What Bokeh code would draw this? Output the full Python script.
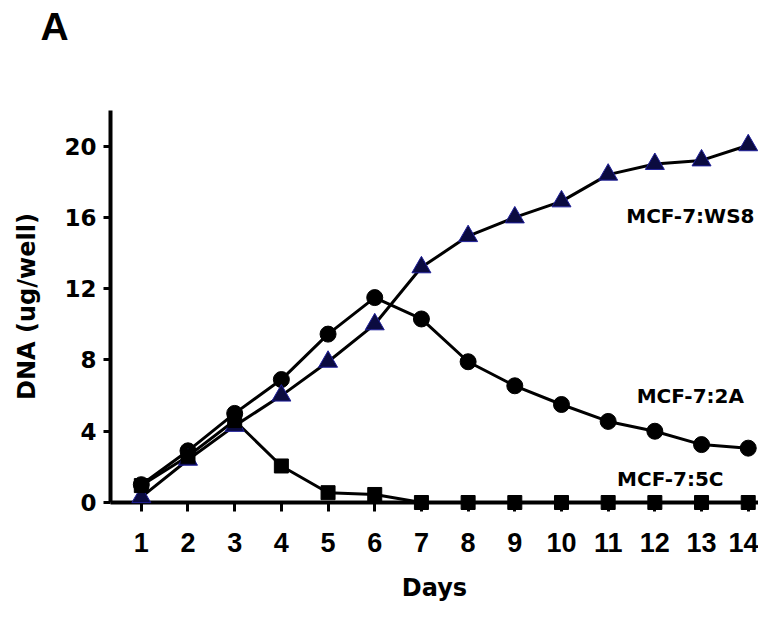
from bokeh.plotting import figure
from bokeh.models import Range1d, FixedTicker, Label, Title
from bokeh.embed import file_html
from bokeh.resources import INLINE

# ---- data ----
days = list(range(1, 15))
ws8 = [0.3, 2.4, 4.3, 6.0, 7.9, 10.0, 13.2, 14.95, 16.0, 16.9, 18.4, 19.0, 19.2, 20.05]
a2 = [1.0, 2.9, 5.0, 6.9, 9.45, 11.5, 10.3, 7.9, 6.55, 5.5, 4.55, 4.0, 3.25, 3.05]
c5 = [0.95, 2.6, 4.6, 2.05, 0.55, 0.45, 0.0, 0.0, 0.0, 0.0, 0.0, 0.0, 0.0, 0.0]
y_ticks = [0, 4, 8, 12, 16, 20]
series_names = ["MCF-7:WS8", "MCF-7:2A", "MCF-7:5C"]
name_x = [12.76, 12.76, 12.33]
name_y = [16.07, 5.98, 1.33]

p = figure(width=758, height=604, output_backend="svg", toolbar_location=None,
           x_range=Range1d(0.34, 14.22), y_range=Range1d(0, 22),
           min_border_left=110, min_border_right=0, min_border_top=110, min_border_bottom=102)
p.outline_line_color = None
p.grid.visible = False
p.background_fill_color = "white"
p.border_fill_color = "white"

# panel letter as the title, pushed up by a spacer panel next to the frame
p.title.text = "A"
p.title.text_font = "Liberation Sans"
p.title.text_font_style = "bold"
p.title.text_font_size = "39px"
p.title.text_color = "black"
p.title.align = "left"
p.title.vertical_align = "top"
p.title.offset = -70
p.title.standoff = 0
p.add_layout(Title(text=" ", text_font_size="10px", standoff=48), "above")

# lines
p.line(days, ws8, line_color="black", line_width=3)
p.line(days, a2, line_color="black", line_width=3)
p.line(days, c5, line_color="black", line_width=3)

# markers
p.scatter(days, a2, marker="circle", size=16, fill_color="black", line_color="black", level="overlay")
p.scatter(days, ws8, marker="triangle", size=19, fill_color="#0b0b40", line_color="#1f1f99",
          line_width=1, level="overlay")
p.scatter(days, c5, marker="square", size=14, fill_color="black", line_color="black", level="overlay")

for name, lx, ly in zip(series_names, name_x, name_y):
    p.add_layout(Label(x=lx, y=ly, text=name, text_align="center", text_baseline="middle",
                       text_font="DejaVu Sans", text_font_style="bold", text_font_size="20px",
                       text_color="black"))

# axes
xa = p.xaxis[0]
xa.ticker = FixedTicker(ticks=days)
xa.axis_label = "Days"
xa.axis_label_text_font = "DejaVu Sans"
xa.axis_label_text_font_style = "bold"
xa.axis_label_text_font_size = "24px"
xa.axis_label_standoff = 19
xa.major_label_text_font = "Liberation Sans"
xa.major_label_text_font_style = "bold"
xa.major_label_text_font_size = "27px"
xa.major_label_standoff = 21

ya = p.yaxis[0]
ya.ticker = FixedTicker(ticks=y_ticks)
ya.axis_label = "DNA (ug/well)"
ya.axis_label_text_font = "DejaVu Sans"
ya.axis_label_text_font_style = "bold"
ya.axis_label_text_font_size = "24px"
ya.axis_label_standoff = 20
ya.major_label_text_font = "DejaVu Sans"
ya.major_label_text_font_style = "bold"
ya.major_label_text_font_size = "23px"
ya.major_label_standoff = 7

for ax in (xa, ya):
    ax.axis_line_width = 4
    ax.axis_line_color = "black"
    ax.major_tick_line_width = 3
    ax.major_tick_line_color = "black"
    ax.major_tick_in = 0
    ax.minor_tick_line_color = None
    ax.major_label_text_color = "black"
    ax.axis_label_text_color = "black"
xa.major_tick_out = 9
ya.major_tick_out = 7

open("out.html", "w").write(file_html(p, INLINE))
